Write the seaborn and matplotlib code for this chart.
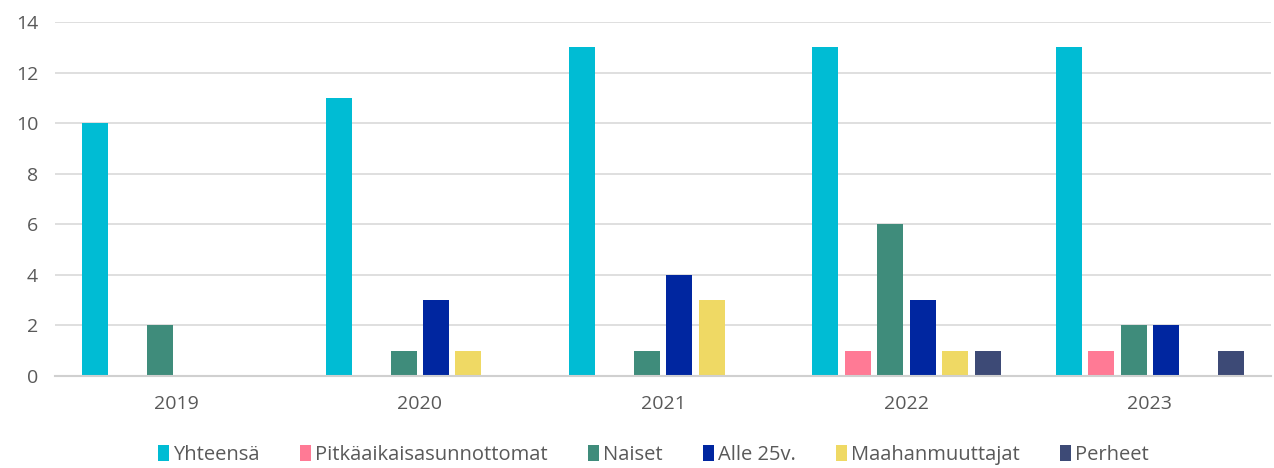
import matplotlib
matplotlib.use("Agg")
import matplotlib.pyplot as plt
import pandas as pd
import seaborn as sns

years = ["2019", "2020", "2021", "2022", "2023"]
series = ["Yhteensä", "Pitkäaikaisasunnottomat", "Naiset", "Alle 25v.", "Maahanmuuttajat", "Perheet"]
yhteensa = [10, 11, 13, 13, 13]
pitkaaikais = [0, 0, 0, 1, 1]
naiset = [2, 1, 1, 6, 2]
alle25 = [0, 3, 4, 3, 2]
maahanmuuttajat = [0, 1, 3, 1, 0]
perheet = [0, 0, 0, 1, 1]
colors = ["#00BCD4", "#FF7A95", "#3F8C7B", "#0026A0", "#EFD964", "#3D4A76"]

values = [yhteensa, pitkaaikais, naiset, alle25, maahanmuuttajat, perheet]
df = pd.DataFrame(
    [(y, s, v) for s, vals in zip(series, values) for y, v in zip(years, vals)],
    columns=["vuosi", "ryhma", "arvo"],
)

sns.set_theme(style="white")
plt.rcParams["font.family"] = ["Open Sans", "DejaVu Sans"]

fig = plt.figure(figsize=(12.74, 4.68), dpi=100)
ax = fig.add_axes([0.043, 0.197, 0.955, 0.756])
sns.barplot(
    data=df, x="vuosi", y="arvo", hue="ryhma", order=years, hue_order=series,
    palette=colors, width=0.8, gap=0.2, linewidth=0, saturation=1, ax=ax,
)

ax.set_ylim(0, 14)
ax.set_yticks(range(0, 15, 2))
ax.set_xlim(-0.5, 4.5)
ax.set_xlabel("")
ax.set_ylabel("")
ax.yaxis.grid(True, color="#D9D9D9", linewidth=1.2)
ax.set_axisbelow(True)
for side in ["left", "right", "top"]:
    ax.spines[side].set_visible(False)
ax.spines["bottom"].set_color("#D0D0D0")
ax.spines["bottom"].set_linewidth(1.5)
ax.tick_params(axis="both", length=0, labelsize=14, colors="#595959")
ax.tick_params(axis="x", pad=14)
ax.tick_params(axis="y", pad=12)

ax.legend(
    loc="lower center", bbox_to_anchor=(0.492, -0.303), ncol=6, frameon=False,
    fontsize=14.5, handlelength=0.55, handleheight=0.85, handletextpad=0.2,
    columnspacing=2.0, labelcolor="#595959",
)

fig.savefig("out.png", dpi=100)
